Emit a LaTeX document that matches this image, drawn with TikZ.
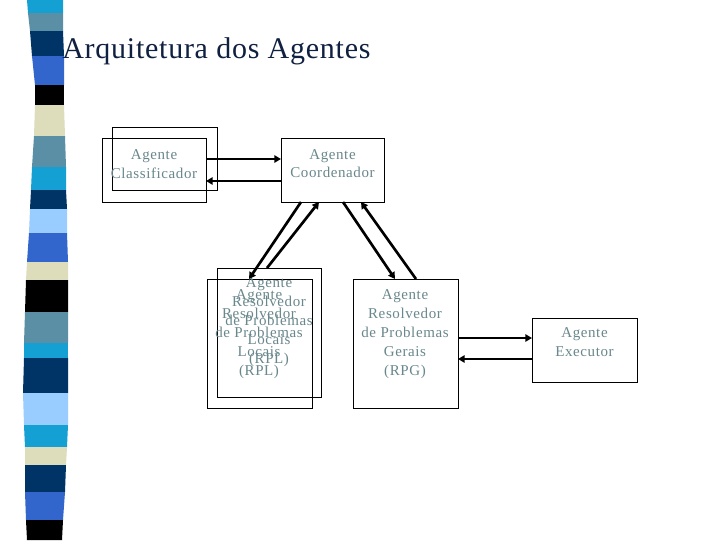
\documentclass[tikz,border=0pt]{standalone}
\usepackage{fontspec}
\usetikzlibrary{arrows.meta,calc}
\newfontfamily\boxfont[LetterSpace=4]{Liberation Serif}
\newfontfamily\titlefont[LetterSpace=2.5]{Liberation Serif}
\definecolor{cyanb}{RGB}{20,160,210}
\definecolor{steelb}{RGB}{90,143,165}
\definecolor{navyb}{RGB}{0,51,102}
\definecolor{royalb}{RGB}{51,102,204}
\definecolor{beigeb}{RGB}{221,221,187}
\definecolor{lightb}{RGB}{153,204,255}
\definecolor{txtcol}{RGB}{105,135,140}
\definecolor{titlecol}{RGB}{16,32,64}
\begin{document}
\begin{tikzpicture}[x=0.75pt,y=-0.75pt,
  box/.style={draw=black,line width=0.75pt,minimum width=78.75pt,inner sep=0pt,outer sep=0pt},
  txt/.style={font=\boxfont\fontsize{11.25pt}{14pt}\selectfont,text=txtcol,anchor=base,inner sep=0pt},
  arr/.style={line width=2pt,-{Triangle[length=5pt,width=5.5pt]}}]
\useasboundingbox (0,0) rectangle (720,540);
\fill[white] (0,0) rectangle (720,540);
% left stripe
\foreach \ya/\la/\ra/\yb/\lb/\rb/\c in {
  0/27/63/13/28/63/cyanb,
  13/28/63/31/30/63/steelb,
  31/30/63/56/32/64/navyb,
  56/32/64/85/35/64/royalb,
  85/35/64/105/35/64/black,
  105/35/64/136/34/65/beigeb,
  136/34/65/167/32/66/steelb,
  167/32/66/190/31/66/cyanb,
  190/31/66/209/30/67/navyb,
  209/30/67/233/29/67/lightb,
  233/29/67/262/27/68/royalb,
  262/27/68/280/26/68/beigeb,
  280/26/68/312/25/68/black,
  312/25/68/343/24/68/steelb,
  343/24/68/358/24/68/cyanb,
  358/24/68/393/23/68/navyb,
  393/23/68/425/24/68/lightb,
  425/24/68/447/25/67/cyanb,
  447/25/67/465/25/66/beigeb,
  465/25/66/492/25/65/navyb,
  492/25/65/520/26/63/royalb,
  520/26/63/540/27/62/black}
  \fill[\c] (\la,\ya) -- (\ra,\ya) -- (\rb,\yb) -- (\lb,\yb) -- cycle;
% title
\node[anchor=base west,inner sep=0pt,text=titlecol,font=\titlefont\fontsize{22.5pt}{26pt}\selectfont] (title) at (62,58) {Arquitetura dos Agentes};
% boxes
\node[box,minimum height=47.25pt] (clsb) at (164.5,158.5) {};
\node[box,minimum width=78pt,minimum height=48pt] (clsf) at (154,170) {};
\node[box,minimum width=77.25pt,minimum height=48pt] (coord) at (332.5,170) {};
\node[box,minimum width=78pt,minimum height=96.75pt] (rplb) at (269,332.5) {};
\node[box,minimum height=96.75pt] (rplf) at (259.5,343.5) {};
\node[box,minimum height=96.75pt] (rpg) at (405.5,343.5) {};
\node[box,minimum height=48pt] (exec) at (584.5,350) {};
% texts
\node[txt] (cls1) at (154,159) {Agente};
\node[txt] (cls2) at (154,178) {Classificador};
\node[txt] (coo1) at (332.5,159) {Agente};
\node[txt] (coo2) at (332.5,177) {Coordenador};
\foreach \t [count=\i] in {Agente,Resolvedor,de Problemas,Locais,(RPL)}
  \node[txt] (rplbt\i) at (269,{287+19*(\i-1)}) {\t};
\foreach \t [count=\i] in {Agente,Resolvedor,de Problemas,Locais,(RPL)}
  \node[txt] (rplft\i) at (259,{299+19*(\i-1)}) {\t};
\foreach \t [count=\i] in {Agente,Resolvedor,de Problemas,Gerais,(RPG)}
  \node[txt] (rpgt\i) at (405,{299+19*(\i-1)}) {\t};
\node[txt] (exe1) at (584.5,337) {Agente};
\node[txt] (exe2) at (584.5,356) {Executor};
% connectors
\draw[arr] ($(clsf.north east)+(0,21)$) -- ($(coord.north west)+(0,21)$);
\draw[arr] ($(coord.north west)+(0,43)$) -- ($(clsf.north east)+(0,43)$);
\draw[arr] ($(coord.south west)+(20,0)$) -- ($(rplf.north west)+(42,0)$);
\draw[arr] ($(rplb.north west)+(50,0)$) -- ($(coord.south west)+(38,0)$);
\draw[arr] ($(coord.south west)+(62,0)$) -- ($(rpg.north west)+(42,0)$);
\draw[arr] ($(rpg.north west)+(63,0)$) -- ($(coord.south west)+(80,0)$);
\draw[arr] ($(rpg.north east)+(0,59)$) -- ($(exec.north west)+(0,20)$);
\draw[arr] ($(exec.north west)+(0,41)$) -- ($(rpg.north east)+(0,80)$);
\end{tikzpicture}
\end{document}
